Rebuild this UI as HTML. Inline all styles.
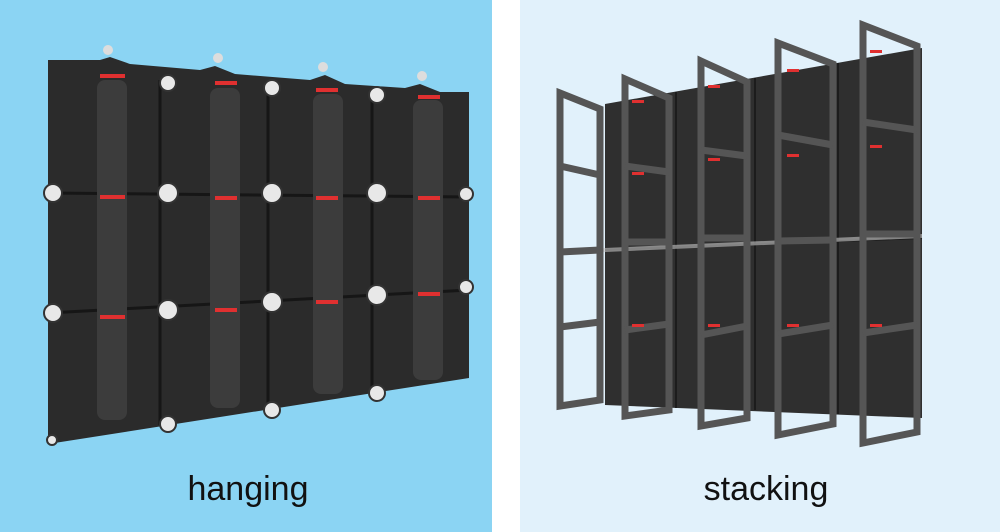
<!DOCTYPE html>
<html><head><style>
html,body{margin:0;padding:0;background:#fff;width:1000px;height:532px;overflow:hidden}
svg{display:block}
text{font-family:"Liberation Sans",sans-serif}
</style></head><body>
<svg width="1000" height="532" viewBox="0 0 1000 532" xmlns="http://www.w3.org/2000/svg">
<rect x="0" y="0" width="492" height="532" fill="#8bd4f3"/>
<rect x="520" y="0" width="480" height="532" fill="#e1f1fb"/>

<!-- hanging wall -->
<polygon points="48,60 100,60 110,57 130,64 200,70 215,66 235,74 310,80 325,75 345,84 405,88 420,84 440,92 469,92 469,378 48,444" fill="#2b2b2b"/>
<g fill="#ddd">
<circle cx="108" cy="50" r="5"/><circle cx="218" cy="58" r="5"/><circle cx="323" cy="67" r="5"/><circle cx="422" cy="76" r="5"/>
</g>
<g stroke="#161616" stroke-width="3">
<line x1="160" y1="80" x2="160" y2="425"/><line x1="268" y1="88" x2="268" y2="410"/><line x1="372" y1="95" x2="372" y2="395"/>
<line x1="48" y1="193" x2="469" y2="197"/><line x1="48" y1="313" x2="469" y2="290"/>
</g>
<g fill="#3c3c3c">
<rect x="97" y="80" width="30" height="340" rx="8"/><rect x="210" y="88" width="30" height="320" rx="8"/><rect x="313" y="94" width="30" height="300" rx="8"/><rect x="413" y="100" width="30" height="280" rx="8"/>
</g>
<g fill="#e03030">
<rect x="100" y="74" width="25" height="4"/><rect x="215" y="81" width="22" height="4"/><rect x="316" y="88" width="22" height="4"/><rect x="418" y="95" width="22" height="4"/>
<rect x="100" y="195" width="25" height="4"/><rect x="215" y="196" width="22" height="4"/><rect x="316" y="196" width="22" height="4"/><rect x="418" y="196" width="22" height="4"/>
<rect x="100" y="315" width="25" height="4"/><rect x="215" y="308" width="22" height="4"/><rect x="316" y="300" width="22" height="4"/><rect x="418" y="292" width="22" height="4"/>
</g>
<g fill="#e8e8e8" stroke="#333" stroke-width="2">
<circle cx="53" cy="193" r="9"/><circle cx="168" cy="193" r="10"/><circle cx="272" cy="193" r="10"/><circle cx="377" cy="193" r="10"/><circle cx="466" cy="194" r="7"/>
<circle cx="53" cy="313" r="9"/><circle cx="168" cy="310" r="10"/><circle cx="272" cy="302" r="10"/><circle cx="377" cy="295" r="10"/><circle cx="466" cy="287" r="7"/>
<circle cx="168" cy="83" r="8"/><circle cx="272" cy="88" r="8"/><circle cx="377" cy="95" r="8"/>
<circle cx="168" cy="424" r="8"/><circle cx="272" cy="410" r="8"/><circle cx="377" cy="393" r="8"/><circle cx="52" cy="440" r="5"/>
</g>
<text x="248" y="500" font-size="34" text-anchor="middle" fill="#111">hanging</text>

<!-- stacking wall -->
<polygon points="605,104 922,48 922,418 605,405" fill="#2f2f2f"/>
<g stroke="#1c1c1c" stroke-width="2">
<line x1="676" y1="92" x2="676" y2="408"/><line x1="755" y1="78" x2="755" y2="410"/><line x1="838" y1="63" x2="838" y2="414"/>
<line x1="605" y1="250" x2="922" y2="238"/>
</g>
<g fill="#c8c8c8" opacity="0.6"><polygon points="560,250 922,234 922,238 560,254"/></g>
<g fill="none" stroke="#555" stroke-width="7" stroke-linejoin="miter">
<polygon points="560,93 600,109 600,400 560,406"/>
<line x1="560" y1="166" x2="600" y2="175"/><line x1="560" y1="252" x2="600" y2="250"/><line x1="560" y1="327" x2="600" y2="322"/>
<polygon points="625,79 669,98 669,410 625,416"/>
<line x1="625" y1="166" x2="669" y2="172"/><line x1="625" y1="242" x2="669" y2="242"/><line x1="625" y1="330" x2="669" y2="324"/>
<polygon points="701,61 747,82 747,418 701,426"/>
<line x1="701" y1="150" x2="747" y2="156"/><line x1="701" y1="238" x2="747" y2="238"/><line x1="701" y1="335" x2="747" y2="326"/>
<polygon points="778,43 833,64 833,424 778,435"/>
<line x1="778" y1="135" x2="833" y2="145"/><line x1="778" y1="241" x2="833" y2="240"/><line x1="778" y1="334" x2="833" y2="325"/>
<polygon points="863,25 917,46 917,432 863,443"/>
<line x1="863" y1="122" x2="917" y2="130"/><line x1="863" y1="234" x2="917" y2="234"/><line x1="863" y1="333" x2="917" y2="325"/>
</g>
<g fill="#e03030">
<rect x="632" y="100" width="12" height="3"/><rect x="708" y="85" width="12" height="3"/><rect x="787" y="69" width="12" height="3"/><rect x="870" y="50" width="12" height="3"/>
<rect x="632" y="172" width="12" height="3"/><rect x="708" y="158" width="12" height="3"/><rect x="787" y="154" width="12" height="3"/><rect x="870" y="145" width="12" height="3"/>
<rect x="632" y="324" width="12" height="3"/><rect x="708" y="324" width="12" height="3"/><rect x="787" y="324" width="12" height="3"/><rect x="870" y="324" width="12" height="3"/>
</g>
<text x="766" y="500" font-size="34" text-anchor="middle" fill="#111">stacking</text>
</svg>
</body></html>
